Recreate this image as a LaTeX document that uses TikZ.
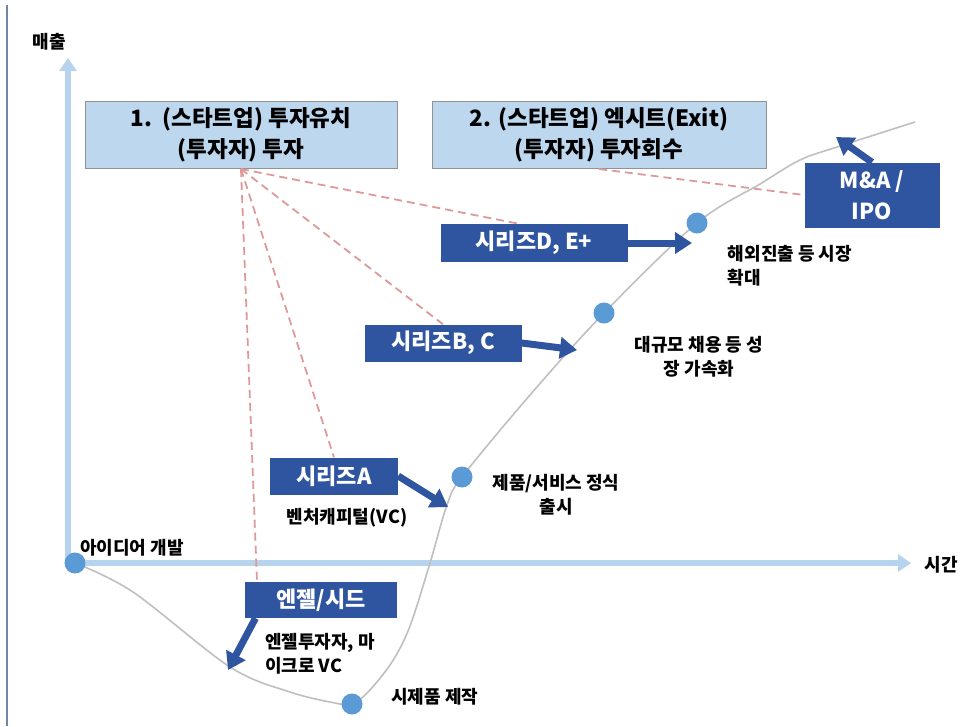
\documentclass[tikz,border=0pt]{standalone}
\usepackage{fontspec}
\setmainfont{Noto Sans CJK KR}
\usepackage{tikz}
\usetikzlibrary{arrows.meta,calc}
\definecolor{titlefill}{HTML}{BDD7EE}
\definecolor{serblue}{HTML}{2F55A0}
\definecolor{dotblue}{HTML}{5B9BD5}
\definecolor{axisblue}{HTML}{B7D4EE}
\definecolor{curvegray}{HTML}{BFBFBF}
\definecolor{dashred}{HTML}{DE9A9A}
\definecolor{edgeblue}{HTML}{6F87A3}

\begin{document}
\begin{tikzpicture}[x=1pt,y=-1pt,
  title/.style={draw=gray!85,fill=titlefill,line width=1pt,minimum height=67pt,align=center,font=\bfseries\fontsize{22.5}{31}\selectfont},
  sbox/.style={fill=serblue,text=white,align=center,inner sep=0pt,font=\bfseries\fontsize{22}{31}\selectfont},
  lbl/.style={inner sep=0pt,font=\bfseries\fontsize{18}{24}\selectfont},
  dot/.style={circle,fill=dotblue,minimum size=21pt,inner sep=0pt},
  redline/.style={dashred,line width=1.8pt,dash pattern=on 8pt off 5pt},
  bigarrow/.style={serblue,line width=7pt,-{Triangle[width=21pt,length=17pt]}},
  axis/.style={axisblue,line width=6pt,-{Triangle[width=17pt,length=13pt]}},
  curve/.style={curvegray,line width=1.6pt}]
\useasboundingbox (0,0) rectangle (976,726);
\draw[edgeblue,line width=2.5pt] (7,5) -- (7,726);
\coordinate (o) at (68,563);
\coordinate (ytop) at (68,58);
\coordinate (xend) at (911,563);
\draw[axis] (o) -- (ytop);
\draw[axis] (o) -- (xend);
\draw[curve] plot[smooth,tension=0.55] coordinates {(75,563) (133,592) (230,667) (290,692) (335,703) (352,704) (368,692) (392,662) (410,626) (430,563) (447,505) (462,477) (530,395) (604,313) (697,223) (760,184) (800,160) (837,147) (915,122)};
\node[dot] (d1) at (75,563) {};
\node[dot] (d2) at (352,704) {};
\node[dot] (d3) at (462,477) {};
\node[dot] (d4) at (604,313) {};
\node[dot] (d5) at (697,223) {};
\node[title,minimum width=312pt] (t1) at (241,135) {1.\ \ (스타트업) 투자유치\\(투자자) 투자};
\node[title,minimum width=334pt] (t2) at (599,135) {2. (스타트업) 엑시트(Exit)\\(투자자) 투자회수};
\node[sbox,minimum width=152pt,minimum height=36pt] (sd) at (321,600) {엔젤/시드};
\node[sbox,minimum width=128pt,minimum height=37pt] (sa) at (334,476) {시리즈A};
\node[sbox,minimum width=157pt,minimum height=37pt] (sbc) at (443,343) {시리즈B, C};
\node[sbox,minimum width=187pt,minimum height=38pt] (sde) at (534,243) {시리즈D, E+};
\node[sbox,minimum width=135pt,minimum height=65pt] (mna) at (872,195) {M\&A /\\IPO};
\draw[redline] (t1.south) -- ($(sd.north west)!.08!(sd.north east)$);
\draw[redline] (t1.south) -- (sa.north);
\draw[redline] (t1.south) -- (sbc.north);
\draw[redline] (t1.south) -- ($(sde.north west)!.42!(sde.north east)$);
\draw[redline] (t2.south) -- (mna.west);
\coordinate (pd) at (228,670);
\coordinate (pa) at (448,507);
\coordinate (pbc) at (577,350);
\coordinate (pde) at (692,243);
\coordinate (pm) at (836,137);
\draw[bigarrow] ($(sd.south west)!.07!(sd.south east)$) -- (pd);
\draw[bigarrow] (sa.east) -- (pa);
\draw[bigarrow] (sbc.east) -- (pbc);
\draw[bigarrow] (sde.east) -- (pde);
\draw[bigarrow] (mna.north) -- (pm);
\node[lbl] (ylab) at (49,42) {매출};
\node[lbl] (xlab) at (941,565) {시간};
\node[lbl,anchor=west] (l1) at (80,548) {아이디어 개발};
\node[lbl,anchor=west] (l2) at (391,697) {시제품 제작};
\node[lbl,align=left] (l3) at (320,654) {엔젤투자자, 마\\이크로 VC};
\node[lbl] (l4) at (347,518) {벤처캐피털(VC)};
\node[lbl,align=center] (l5) at (556,495) {제품/서비스 정식\\출시};
\node[lbl,align=center] (l6) at (699,357) {대규모 채용 등 성\\장 가속화};
\node[lbl,align=left] (l7) at (790,266) {해외진출 등 시장\\확대};

\end{tikzpicture}
\end{document}
